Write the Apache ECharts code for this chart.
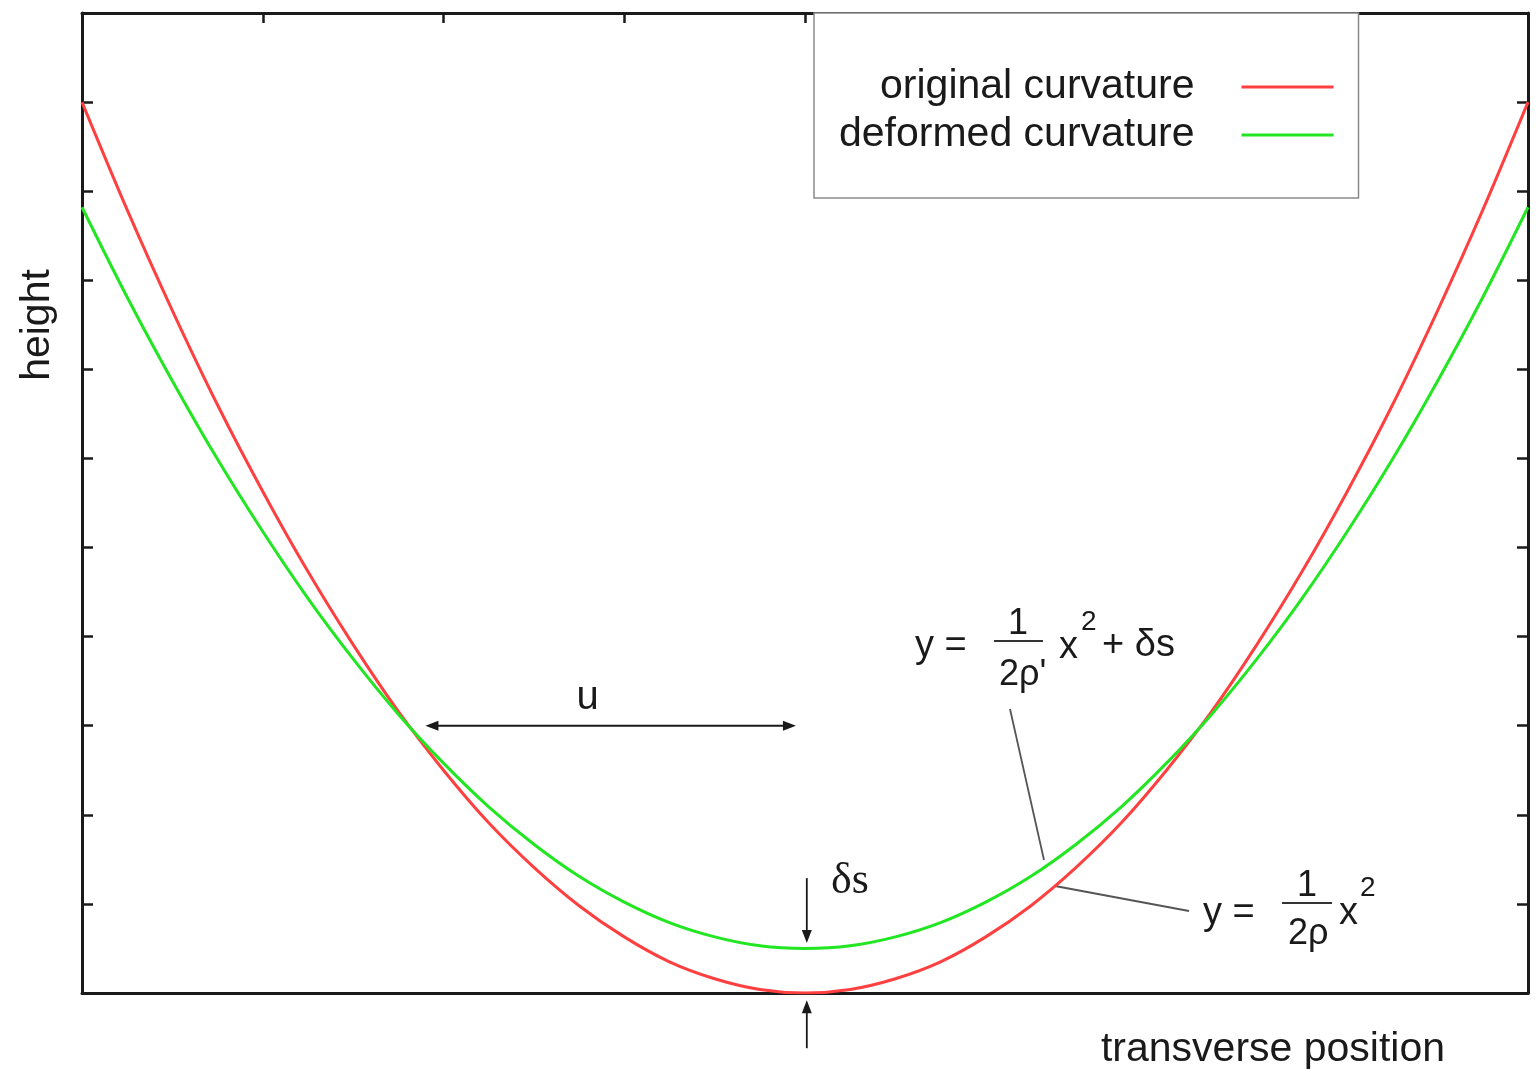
<!DOCTYPE html>
<html>
<head>
<meta charset="utf-8">
<title>original vs deformed curvature</title>
<script src="https://cdn.jsdelivr.net/npm/echarts@6/dist/echarts.min.js"></script>
<style>
  html, body { margin: 0; padding: 0; background: #ffffff; }
  #chart { width: 1536px; height: 1071px; }
</style>
</head>
<body>
<div id="chart"></div>
<script>
// transverse positions of the sampled profile
const positions = [-4, -3.75, -3.5, -3.25, -3, -2.75, -2.5, -2.25, -2, -1.75, -1.5, -1.25, -1, -0.75, -0.5, -0.25,
  0, 0.25, 0.5, 0.75, 1, 1.25, 1.5, 1.75, 2, 2.25, 2.5, 2.75, 3, 3.25, 3.5, 3.75, 4];

// height of the original curvature profile
const originalHeight = [10, 8.79, 7.66, 6.6, 5.63, 4.73, 3.91, 3.16, 2.5, 1.91, 1.41, 0.98, 0.63, 0.35, 0.16, 0.04,
  0, 0.04, 0.16, 0.35, 0.63, 0.98, 1.41, 1.91, 2.5, 3.16, 3.91, 4.73, 5.63, 6.6, 7.66, 8.79, 10];

// height of the deformed curvature profile (raised by δs at the centre)
const deformedHeight = [8.82, 7.81, 6.87, 5.99, 5.18, 4.43, 3.75, 3.13, 2.58, 2.09, 1.67, 1.31, 1.02, 0.79, 0.63, 0.53,
  0.5, 0.53, 0.63, 0.79, 1.02, 1.31, 1.67, 2.09, 2.58, 3.13, 3.75, 4.43, 5.18, 5.99, 6.87, 7.81, 8.82];

const seriesNames = ['original curvature', 'deformed curvature'];

// span of the "u" marker, in axis units
const uSpan = { from: -2.1, to: -0.05, level: 3.0 };

const FONT = "'Liberation Sans', Arial, Helvetica, sans-serif";
const INK = '#1a1a1a';
const RED = '#ff4040';
const GREEN = '#22e622';

const chart = echarts.init(document.getElementById('chart'), null, { renderer: 'canvas' });

const pairs = (ys) => positions.map((x, i) => [x, ys[i]]);

const frameLine = { show: true, onZero: false, lineStyle: { color: INK, width: 3 } };
const innerTick = (len) => ({ show: true, inside: true, length: len, lineStyle: { color: INK, width: 2.5 } });

chart.setOption({
  animation: false,
  backgroundColor: '#ffffff',
  grid: { left: 82, right: 8, top: 13, bottom: 78 },
  xAxis: [
    { type: 'value', min: -4, max: 4, interval: 1, position: 'bottom',
      axisLine: frameLine, axisTick: { show: false }, axisLabel: { show: false }, splitLine: { show: false } },
    { type: 'value', min: -4, max: 4, interval: 1, position: 'top',
      axisLine: frameLine, axisTick: innerTick(10), axisLabel: { show: false }, splitLine: { show: false } }
  ],
  yAxis: [
    { type: 'value', min: 0, max: 11, interval: 1, position: 'left',
      axisLine: frameLine, axisTick: innerTick(11), axisLabel: { show: false }, splitLine: { show: false } },
    { type: 'value', min: 0, max: 11, interval: 1, position: 'right',
      axisLine: frameLine, axisTick: innerTick(11), axisLabel: { show: false }, splitLine: { show: false } }
  ],
  legend: {
    data: seriesNames,
    orient: 'vertical',
    align: 'right',
    left: 814,
    top: 13,
    padding: [53, 25, 42, 25],
    itemGap: 6,
    icon: 'rect',
    itemWidth: 92,
    itemHeight: 3,
    borderColor: '#8a8a8a',
    borderWidth: 1.5,
    backgroundColor: '#ffffff',
    textStyle: { fontFamily: FONT, fontSize: 41, color: INK, width: 354, lineHeight: 42, align: 'right', padding: [0, 42, 0, 0] }
  },
  series: [
    { name: seriesNames[0], type: 'line', data: pairs(originalHeight), symbol: 'none', smooth: 0.3,
      lineStyle: { color: RED, width: 3 }, itemStyle: { color: RED }, z: 3 },
    { name: seriesNames[1], type: 'line', data: pairs(deformedHeight), symbol: 'none', smooth: 0.3,
      lineStyle: { color: GREEN, width: 3 }, itemStyle: { color: GREEN }, z: 3 }
  ]
});

// ---- annotations -------------------------------------------------------
const toPx = (x, y) => chart.convertToPixel({ xAxisIndex: 0, yAxisIndex: 0 }, [x, y]);

function arrow(from, to, opts) {
  const o = Object.assign({ head: 13, half: 5, color: INK, width: 1.8, double: false }, opts || {});
  const dx = to[0] - from[0], dy = to[1] - from[1];
  const len = Math.hypot(dx, dy);
  const ux = dx / len, uy = dy / len;
  const head = (tip, sx, sy) => ({
    type: 'polygon',
    shape: { points: [
      tip,
      [tip[0] - sx * o.head - sy * o.half, tip[1] - sy * o.head + sx * o.half],
      [tip[0] - sx * o.head + sy * o.half, tip[1] - sy * o.head - sx * o.half]
    ] },
    style: { fill: o.color }
  });
  const start = o.double ? [from[0] + ux * o.head * 0.8, from[1] + uy * o.head * 0.8] : from;
  const end = [to[0] - ux * o.head * 0.8, to[1] - uy * o.head * 0.8];
  const els = [{ type: 'line', shape: { x1: start[0], y1: start[1], x2: end[0], y2: end[1] },
    style: { stroke: o.color, lineWidth: o.width } }, head(to, ux, uy)];
  if (o.double) els.push(head(from, -ux, -uy));
  return els;
}

const txt = (text, x, y, size, extra, rotation) => ({
  type: 'text', x: x, y: y, rotation: rotation || 0,
  style: Object.assign({ text: text, fontFamily: FONT, fontSize: size, fill: INK,
    align: 'left', verticalAlign: 'middle' }, (extra || {}))
});

const bar = (x1, x2, y) => ({ type: 'line', shape: { x1: x1, y1: y, x2: x2, y2: y },
  style: { stroke: '#333333', lineWidth: 2 } });
const leader = (x1, y1, x2, y2) => ({ type: 'line', shape: { x1: x1, y1: y1, x2: x2, y2: y2 },
  style: { stroke: '#555555', lineWidth: 1.8 } });

const centre = 16; // index of the profile centre
const uFrom = toPx(uSpan.from, uSpan.level);
const uTo = toPx(uSpan.to, uSpan.level);
const dsTopTail = toPx(0.01, deformedHeight[centre] + 0.79);
const dsTopTip = toPx(0.01, deformedHeight[centre] + 0.06);
const dsBotTip = toPx(0.01, originalHeight[centre] - 0.08);
const dsBotTail = toPx(0.01, originalHeight[centre] - 0.62);

const elements = [
  // axis titles
  txt('height', 38, 325, 41, { align: 'center', verticalAlign: 'middle' }, Math.PI / 2),
  txt('transverse position', 1273, 1050, 41, { align: 'center' }),

  // u: distance from the crossing point to the centre
  ...arrow(uFrom, uTo, { double: true }),
  txt('u', (uFrom[0] + uTo[0]) / 2 - 23, uFrom[1] - 28, 40, { align: 'center' }),

  // δs: offset between the two minima
  ...arrow(dsTopTail, dsTopTip),
  ...arrow(dsBotTail, dsBotTip),
  txt('δs', 831, 881, 44, { fontFamily: "'Liberation Serif', 'DejaVu Serif', serif" }),

  // y = 1/(2ρ') x² + δs
  txt('y =', 915, 647, 38),
  txt('1', 1018, 624, 36, { align: 'center' }),
  bar(994, 1043, 641),
  txt("2ρ'", 999, 675, 36),
  txt('x', 1059, 648, 38),
  txt('2', 1081, 622, 28),
  txt('+ δs', 1102, 646, 38),
  leader(1010, 709, 1044, 860),

  // y = 1/(2ρ) x²
  txt('y =', 1203, 914, 38),
  txt('1', 1307, 886, 36, { align: 'center' }),
  bar(1282, 1332, 903),
  txt('2ρ', 1288, 934, 36),
  txt('x', 1339, 914, 38),
  txt('2', 1360, 888, 28),
  leader(1055, 886, 1189, 911)
];

chart.setOption({ graphic: { elements: elements } });
</script>
</body>
</html>
